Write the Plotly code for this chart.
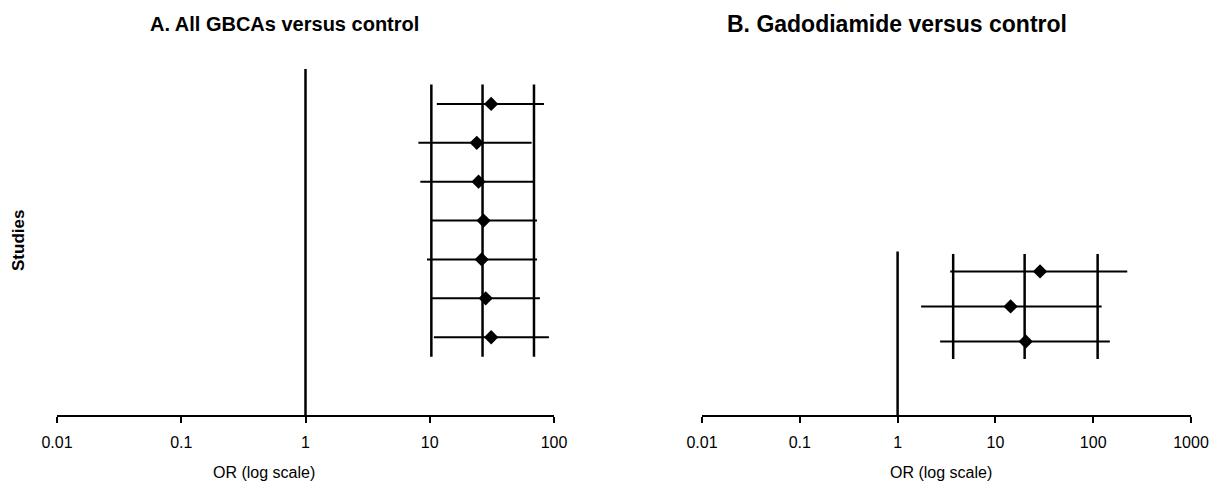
import plotly.graph_objects as go

# ---------------- data ----------------
tick_vals_a = [0.01, 0.1, 1, 10, 100]
tick_text_a = ["0.01", "0.1", "1", "10", "100"]
tick_vals_b = [0.01, 0.1, 1, 10, 100, 1000]
tick_text_b = ["0.01", "0.1", "1", "10", "100", "1000"]

# Panel A: All GBCAs versus control (studies listed top to bottom)
or_a = [31.2, 23.9, 24.7, 27.1, 26.2, 28.2, 31.2]
low_a = [11.4, 8.1, 8.4, 10.3, 9.5, 10.3, 10.8]
high_a = [83, 66, 69, 73, 73, 77, 91]
pooled_a = [10.3, 26.6, 69]          # pooled OR lower, estimate, upper

# Panel B: Gadodiamide versus control
or_b = [28.6, 14.3, 20.4]
low_b = [3.45, 1.74, 2.72]
high_b = [223, 122, 148]
pooled_b = [3.7, 19.9, 111]

null_value = [1]

title_a = "A. All GBCAs versus control"
title_b = "B. Gadodiamide versus control"
x_title = "OR (log scale)"
y_title = "Studies"

# ---------------- figure ----------------
W, H = 1212, 487
FONT = "Liberation Sans, Arial, sans-serif"
BLACK = "#000000"


def fx(px):
    return px / W


def fy(py):
    return 1 - py / H


fig = go.Figure()


def add_panel(fig, xref, yref, ors, lows, highs, pooled, ref_top, y_min):
    n = len(ors)
    ys = [n - i for i in range(n)]
    # CI lines
    lx, ly = [], []
    for lo, hi, y in zip(lows, highs, ys):
        lx += [lo, hi, None]
        ly += [y, y, None]
    fig.add_trace(go.Scatter(x=lx, y=ly, mode="lines", xaxis=xref, yaxis=yref,
                             line=dict(color=BLACK, width=2), hoverinfo="skip"))
    # pooled vertical lines
    px, py = [], []
    for v in pooled:
        px += [v, v, None]
        py += [0.5, n + 0.5, None]
    fig.add_trace(go.Scatter(x=px, y=py, mode="lines", xaxis=xref, yaxis=yref,
                             line=dict(color=BLACK, width=2.5), hoverinfo="skip"))
    # null line at OR = 1
    fig.add_trace(go.Scatter(x=[null_value[0], null_value[0]], y=[y_min, ref_top],
                             mode="lines", xaxis=xref, yaxis=yref,
                             line=dict(color=BLACK, width=2.5), hoverinfo="skip"))
    # point estimates
    fig.add_trace(go.Scatter(x=ors, y=ys, mode="markers", xaxis=xref, yaxis=yref,
                             marker=dict(symbol="diamond", size=11, color=BLACK,
                                         line=dict(width=0))))


ya_min, ya_max = -1.0, 8.13
yb_min, yb_max = -1.1, 9.04

add_panel(fig, "x", "y", or_a, low_a, high_a, pooled_a, 7.9, ya_min)
add_panel(fig, "x2", "y2", or_b, low_b, high_b, pooled_b, 3.57, yb_min)

ydom = [fy(415), fy(60)]

xcommon = dict(type="log", showgrid=False, zeroline=False, showline=True,
               linecolor=BLACK, linewidth=2, ticks="outside", ticklen=6,
               tickwidth=2, tickcolor=BLACK, automargin=False,
               tickfont=dict(family=FONT, size=16, color=BLACK),
               ticklabelstandoff=6, fixedrange=True)
ycommon = dict(showgrid=False, zeroline=False, showline=False, automargin=False,
               showticklabels=False, ticks="", domain=ydom, fixedrange=True)

fig.update_layout(
    width=W, height=H,
    margin=dict(l=0, r=0, t=0, b=0, autoexpand=False),
    paper_bgcolor="white", plot_bgcolor="white",
    showlegend=False,
    xaxis=dict(domain=[fx(57), fx(554)], range=[-2, 2],
               tickvals=tick_vals_a, ticktext=tick_text_a, anchor="y", **xcommon),
    yaxis=dict(range=[ya_min, ya_max], anchor="x", **ycommon),
    xaxis2=dict(domain=[fx(702), fx(1191)], range=[-2, 3],
                tickvals=tick_vals_b, ticktext=tick_text_b, anchor="y2", **xcommon),
    yaxis2=dict(range=[yb_min, yb_max], anchor="x2", **ycommon),
    annotations=[
        dict(text="<b>" + title_a + "</b>", x=fx(284), y=fy(24),
             xref="paper", yref="paper", showarrow=False,
             xanchor="center", yanchor="middle",
             font=dict(family=FONT, size=20, color=BLACK)),
        dict(text="<b>" + title_b + "</b>", x=fx(897), y=fy(24),
             xref="paper", yref="paper", showarrow=False,
             xanchor="center", yanchor="middle",
             font=dict(family=FONT, size=23, color=BLACK)),
        dict(text=x_title, x=fx(264), y=fy(472),
             xref="paper", yref="paper", showarrow=False,
             xanchor="center", yanchor="middle",
             font=dict(family=FONT, size=16, color=BLACK)),
        dict(text=x_title, x=fx(941), y=fy(472),
             xref="paper", yref="paper", showarrow=False,
             xanchor="center", yanchor="middle",
             font=dict(family=FONT, size=16, color=BLACK)),
        dict(text="<b>" + y_title + "</b>", x=fx(19), y=fy(241),
             xref="paper", yref="paper", showarrow=False, textangle=-90,
             xanchor="center", yanchor="middle",
             font=dict(family=FONT, size=17, color=BLACK)),
    ],
)

# remove the default 8px page margin so the 1212x487 figure fills the window
fig.write_html("out.html",
               config={"displayModeBar": False},
               post_script="document.body.style.margin='0';"
                           "document.body.style.overflow='hidden';")
